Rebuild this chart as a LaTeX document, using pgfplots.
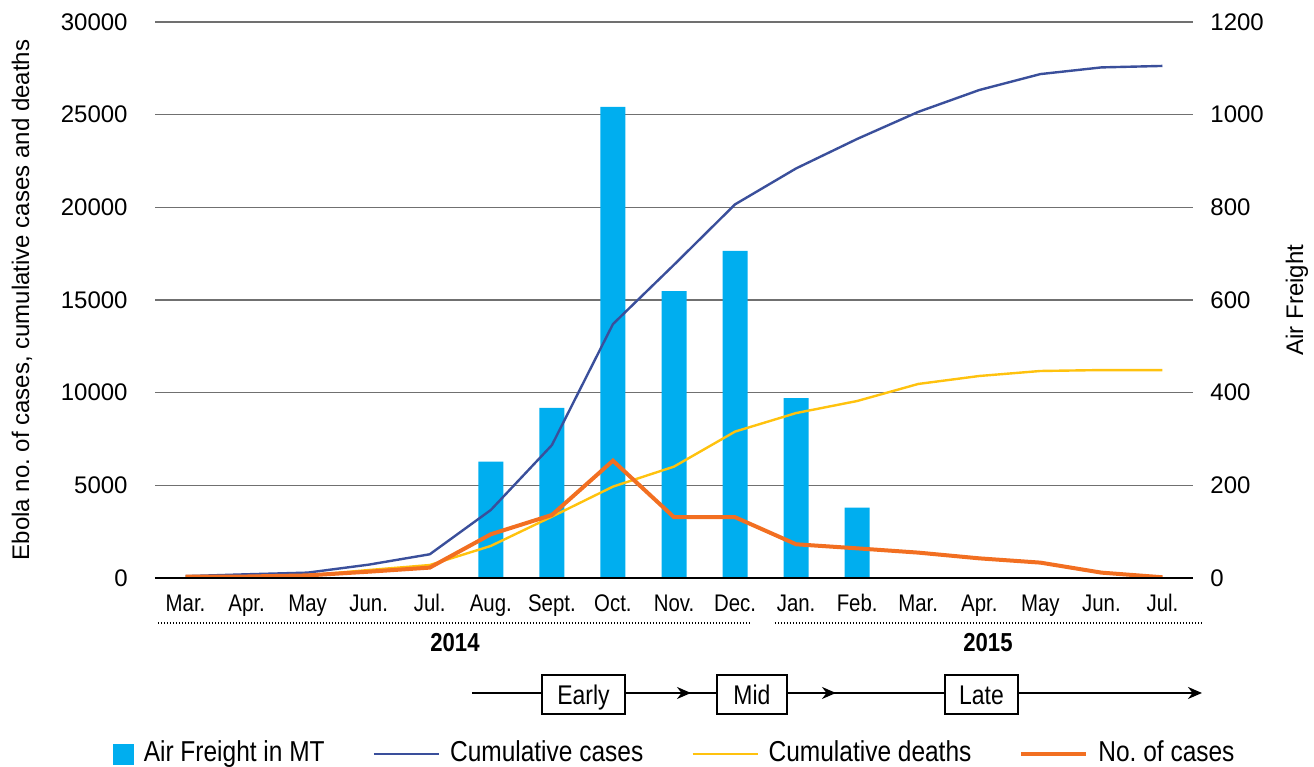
\documentclass[border=0pt]{standalone}
\usepackage{fontspec}
\setmainfont{Liberation Sans}
\newfontfamily\cond[FakeStretch=0.85]{Liberation Sans}
\usepackage{pgfplots}
\usepackage{pgfplotstable}
\pgfplotsset{compat=1.18}
\usetikzlibrary{arrows.meta}
\frenchspacing
\definecolor{barblue}{HTML}{00AEEF}
\definecolor{cumblue}{HTML}{3A4F9B}
\definecolor{deathyel}{HTML}{FFC20E}
\definecolor{caseorg}{HTML}{F26F21}
\definecolor{gridgray}{HTML}{707070}

\pgfplotstableread{
x freight
5 251
6 367
7 1017
8 619
9 706
10 388
11 152
}\freight

\pgfplotstableread{
x cumcases cumdeaths cases
0 100 50 70
1 200 90 80
2 290 140 140
3 720 430 340
4 1280 700 560
5 3670 1730 2360
6 7170 3310 3400
7 13700 4930 6330
8 16900 6010 3280
9 20160 7900 3280
10 22100 8900 1820
11 23690 9550 1600
12 25150 10470 1370
13 26330 10900 1060
14 27190 11170 830
15 27550 11220 290
16 27630 11220 40
}\ebola

\pgfplotsset{
  base/.style={
    scale only axis, width=519bp, height=278bp,
    at={(0,0)}, anchor=south west,
    xmin=-0.5, xmax=16.5, ymin=0,
    axis line style={draw=none},
    major tick length=0pt,
    scaled y ticks=false,
    /pgf/number format/assume math mode=true,
    /pgf/number format/1000 sep={},
    yticklabel style={font=\fontsize{12bp}{14bp}\selectfont, inner sep=0pt},
    ylabel style={font=\fontsize{12bp}{14bp}\selectfont},
  }
}

\begin{document}
\begin{tikzpicture}
% right axis: air freight bars with grid
\begin{axis}[base,
  ymax=1200, ytick={0,200,...,1200},
  yticklabel pos=right,
  yticklabel style={anchor=west, xshift=8.5bp},
  xtick=\empty,
  ymajorgrids, grid style={gridgray, line width=0.7bp},
  ylabel={Air Freight},
  ylabel style={at={(rel axis cs:1,0.5)}, anchor=center, yshift=-52bp},
]
\addplot[ybar, bar width=12.5bp, fill=barblue, draw=none] table[x=x,y=freight]{\freight};
\end{axis}
% left axis: lines
\begin{axis}[base,
  ymax=30000, ytick={0,5000,...,30000},
  yticklabel pos=left,
  yticklabel style={anchor=east, xshift=-13.5bp},
  xtick={0,...,16},
  xticklabels={Mar.,Apr.,May,Jun.,Jul.,Aug.,Sept.,Oct.,Nov.,Dec.,Jan.,Feb.,Mar.,Apr.,May,Jun.,Jul.},
  xticklabel style={font=\cond\fontsize{12bp}{14bp}\selectfont, inner sep=0pt, anchor=base, yshift=-16.5bp},
  ylabel={Ebola no. of cases, cumulative cases and deaths},
  ylabel style={at={(rel axis cs:0,0.5)}, anchor=center, yshift=66.5bp},
  legend columns=4,
  legend image code/.code={\draw[#1] (0bp,0bp) -- (32.5bp,0bp);},
  legend style={at={(rel axis cs:0,0)}, anchor=west, xshift=-21bp, yshift=-88bp,
    draw=none, fill=none, inner sep=0pt, outer sep=0pt,
    font=\cond\fontsize{14.4bp}{16bp}\selectfont,
    nodes={inner sep=0pt, text height=10.5bp, text depth=3bp},
    /tikz/every odd column/.append style={column sep=5bp},
    /tikz/every even column/.append style={column sep=24bp}},
  legend cell align=left,
]
\addlegendimage{legend image code/.code={\fill[barblue] (0bp,-5bp) rectangle (10bp,5bp);}}
\addlegendentry{Air Freight in MT}
\addplot[cumblue, line width=1.2bp] table[x=x,y=cumcases]{\ebola};
\addlegendentry{Cumulative cases}
\addplot[deathyel, line width=1.2bp] table[x=x,y=cumdeaths]{\ebola};
\addlegendentry{Cumulative deaths}
\addplot[caseorg, line width=2bp] table[x=x,y=cases]{\ebola};
\addlegendentry{No. of cases}
\draw[black, line width=0.9bp] (rel axis cs:0,0) -- (rel axis cs:1,0);
\end{axis}
% annotations below the axis (pixel coordinates of the reference)
\begin{scope}[x=0.5bp, y=-0.5bp, shift={(-77.5bp,289bp)}]
  \draw[line width=1bp, dash pattern=on 0.6bp off 0.9bp] (158,623) -- (752,623);
  \draw[line width=1bp, dash pattern=on 0.6bp off 0.9bp] (775,623) -- (1203,623);
  \node[font=\cond\bfseries\fontsize{13bp}{15bp}\selectfont] at (455,643) {2014};
  \node[font=\cond\bfseries\fontsize{13bp}{15bp}\selectfont] at (988,643) {2015};
  \draw[line width=1bp] (472,693) -- (542,693);
  \draw[line width=1bp, -{Stealth[length=7bp,width=6bp]}] (625,693) -- (691,693);
  \draw[line width=1bp] (689,693) -- (717,693);
  \draw[line width=1bp, -{Stealth[length=7bp,width=6bp]}] (787,693) -- (836,693);
  \draw[line width=1bp] (834,693) -- (945,693);
  \draw[line width=1bp, -{Stealth[length=7bp,width=6bp]}] (1018,693) -- (1202,693);
  \tikzset{phase/.style={draw, line width=1bp, fill=white, minimum height=19.5bp, inner sep=0pt,
        text height=9.7bp, text depth=0pt, font=\cond\fontsize{13.5bp}{15bp}\selectfont}}
  \node[phase, minimum width=41.5bp] at (583.5,694.5) {Early};
  \node[phase, minimum width=35bp] at (752,694.5) {Mid};
  \node[phase, minimum width=36.5bp] at (981.5,694.5) {Late};
\end{scope}
\pgfresetboundingbox
\path[use as bounding box] (-77.5bp,-94.5bp) rectangle (579.5bp,289bp);
\end{tikzpicture}
\end{document}
